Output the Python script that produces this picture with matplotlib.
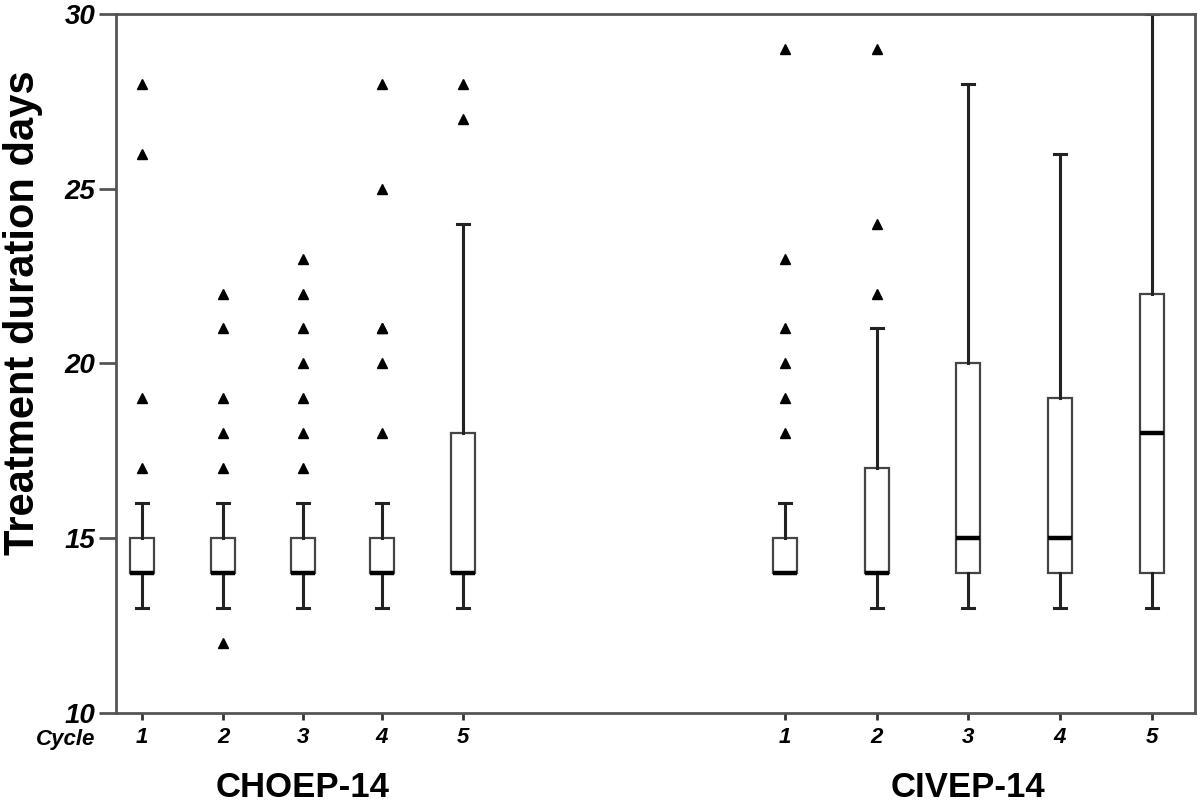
import matplotlib
matplotlib.use("Agg")
import matplotlib.pyplot as plt

plt.rcParams['font.family'] = ['Liberation Sans', 'DejaVu Sans']

groups = ["CHOEP-14", "CIVEP-14"]
cycles = ["1", "2", "3", "4", "5"]

# box stats per cycle: whisker low, q1, median, q3, whisker high
choep_lo = [13, 13, 13, 13, 13]
choep_q1 = [14, 14, 14, 14, 14]
choep_med = [14, 14, 14, 14, 14]
choep_q3 = [15, 15, 15, 15, 18]
choep_hi = [16, 16, 16, 16, 24]
choep_out = [[17, 19, 26, 28],
             [12, 17, 18, 19, 21, 22],
             [17, 18, 19, 20, 21, 22, 23],
             [18, 20, 21, 21, 25, 28],
             [27, 28]]

civep_lo = [14, 13, 13, 13, 13]
civep_q1 = [14, 14, 14, 14, 14]
civep_med = [14, 14, 15, 15, 18]
civep_q3 = [15, 17, 20, 19, 22]
civep_hi = [16, 21, 28, 26, 30]
civep_out = [[18, 19, 20, 21, 23, 29],
             [22, 24, 29],
             [], [], []]

def make_stats(lo, q1, med, q3, hi, out):
    st = []
    for i in range(len(lo)):
        st.append(dict(whislo=lo[i], q1=q1[i], med=med[i], q3=q3[i],
                       whishi=hi[i], fliers=out[i], label=cycles[i]))
    return st

# x layout in pixel-ish units of the plot area
pos_choep = [26, 107, 187, 266, 347]
pos_civep = [669, 761, 852, 944, 1036]

fig = plt.figure(figsize=(12, 8.1), dpi=100)
ax = fig.add_axes([0.0967, 0.1198, 0.8991, 0.8630])

boxprops = dict(edgecolor="#444444", linewidth=1.6, facecolor="white")
medianprops = dict(color="black", linewidth=3.2, solid_capstyle="butt")
whiskerprops = dict(color="#222222", linewidth=2.2)
capprops = dict(color="#222222", linewidth=2.2)
flierprops = dict(marker="^", markerfacecolor="black", markeredgecolor="black",
                  markersize=6.5, linestyle="none")

for stats, pos in [(make_stats(choep_lo, choep_q1, choep_med, choep_q3, choep_hi, choep_out), pos_choep),
                   (make_stats(civep_lo, civep_q1, civep_med, civep_q3, civep_hi, civep_out), pos_civep)]:
    ax.bxp(stats, positions=pos, widths=24, patch_artist=True,
           boxprops=boxprops, medianprops=medianprops,
           whiskerprops=whiskerprops, capprops=capprops,
           flierprops=flierprops, capwidths=12, manage_ticks=False)

ax.set_xlim(0, 1079)
ax.set_ylim(10, 30)

ax.set_yticks([10, 15, 20, 25, 30])
ax.set_yticklabels(["10", "15", "20", "25", "30"], fontsize=20,
                   fontweight="bold", fontstyle="italic")
ax.tick_params(axis="y", length=12, width=2, color="#555555", pad=3)

ax.set_xticks(pos_choep + pos_civep)
ax.set_xticklabels(cycles + cycles, fontsize=16, fontweight="bold",
                   fontstyle="italic")
ax.tick_params(axis="x", length=5, width=2, color="#333333", pad=5)

for s in ax.spines.values():
    s.set_color("#555555")
    s.set_linewidth(2)

ax.set_ylabel("Treatment duration days", fontsize=30, fontweight="bold")
ax.yaxis.set_label_coords(-0.068, 0.572)

fig.text(66 / 1200, 1 - 740 / 810, "Cycle", fontsize=16, fontweight="bold",
         fontstyle="italic", ha="center", va="center")

ax.text(sum(pos_choep) / 5, -0.107, groups[0], transform=ax.get_xaxis_transform(),
        fontsize=25, fontweight="bold", ha="center", va="center")
ax.text(sum(pos_civep) / 5, -0.107, groups[1], transform=ax.get_xaxis_transform(),
        fontsize=25, fontweight="bold", ha="center", va="center")

fig.savefig("out.png", dpi=100)
